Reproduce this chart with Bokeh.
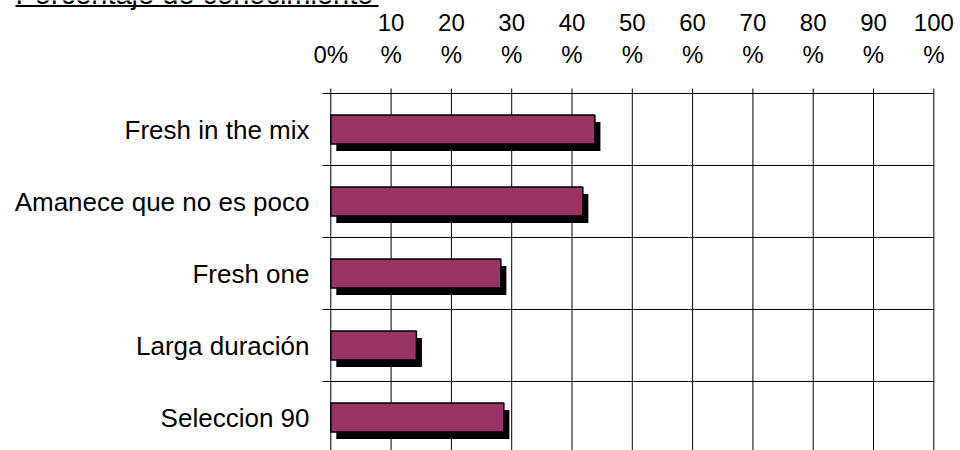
from bokeh.plotting import figure
from bokeh.models import Range1d
from bokeh.core.properties import value
from bokeh.embed import file_html
from bokeh.resources import INLINE

# ---- data ----
categories = ["Fresh in the mix", "Amanece que no es poco", "Fresh one",
              "Larga duración", "Seleccion 90"]
values = [43.8, 41.8, 28.2, 14.2, 28.7]
tick_values = [0, 10, 20, 30, 40, 50, 60, 70, 80, 90, 100]
tick_upper = ["", "10", "20", "30", "40", "50", "60", "70", "80", "90", "100"]
tick_lower = ["0%", "%", "%", "%", "%", "%", "%", "%", "%", "%", "%"]
title_text = "Porcentaje de conocimiento"

# ---- layout (pixels) ----
W, H = 960, 450
PX = 6.03          # pixels per percent
ZERO = 330.3       # canvas x of 0 %
BAND = 72          # pixels per category band
AXIS_Y = 93        # canvas y of the top axis line
FONT = "Liberation Sans"

x_start = -ZERO / PX
x_end = x_start + W / PX


def cx(px):
    return x_start + px / PX


def cy(py):
    return -0.5 + (py - AXIS_Y) / BAND


p = figure(width=W, height=H, x_range=Range1d(x_start, x_end),
           y_range=Range1d(cy(H), cy(0)),
           x_axis_location=None, y_axis_location=None,
           output_backend="svg", toolbar_location=None, min_border=0)
p.outline_line_color = None
p.background_fill_color = "white"
p.border_fill_color = "white"
p.grid.grid_line_color = None

ypos = list(range(len(categories)))

# vertical grid lines (with tick marks above the axis line)
p.segment(x0=tick_values, y0=cy(AXIS_Y - 5), x1=tick_values, y1=cy(H),
          line_color="black", line_width=1)
# top axis line and category separators
seps = [-0.5] + [y + 0.5 for y in ypos]
p.segment(x0=cx(322), y0=seps, x1=tick_values[-1], y1=seps,
          line_color="black", line_width=1)

# bars with drop shadow
dx = 5.5 / PX
dy = 7 / BAND
p.hbar(y=[y + dy for y in ypos], left=dx, right=[v + dx for v in values],
       height=0.4, fill_color="black", line_color=None)
p.hbar(y=ypos, left=0, right=values, height=0.4, fill_color="#993366",
       line_color="black", line_width=1.5)

# tick labels (two lines)
p.text(x=tick_values, y=cy(54), text=tick_lower, text_font=value(FONT),
       text_font_size="24px", text_color="black", text_align="center",
       text_baseline="middle")
p.text(x=tick_values[1:], y=cy(21.7), text=tick_upper[1:],
       text_font=value(FONT), text_font_size="24px", text_color="black",
       text_align="center", text_baseline="middle")

# category labels
p.text(x=cx(309), y=ypos, text=categories, text_font=value(FONT),
       text_font_size="26px", text_color="black", text_align="right",
       text_baseline="middle")

# title (cut off by the top of the window, underlined)
p.text(x=cx(15), y=cy(-7), text=[title_text], text_font=value(FONT),
       text_font_size="29px", text_color="black", text_align="left",
       text_baseline="middle")
p.segment(x0=cx(15), y0=cy(5.5), x1=cx(378), y1=cy(5.5),
          line_color="black", line_width=2)

open("out.html", "w").write(file_html(p, INLINE))
